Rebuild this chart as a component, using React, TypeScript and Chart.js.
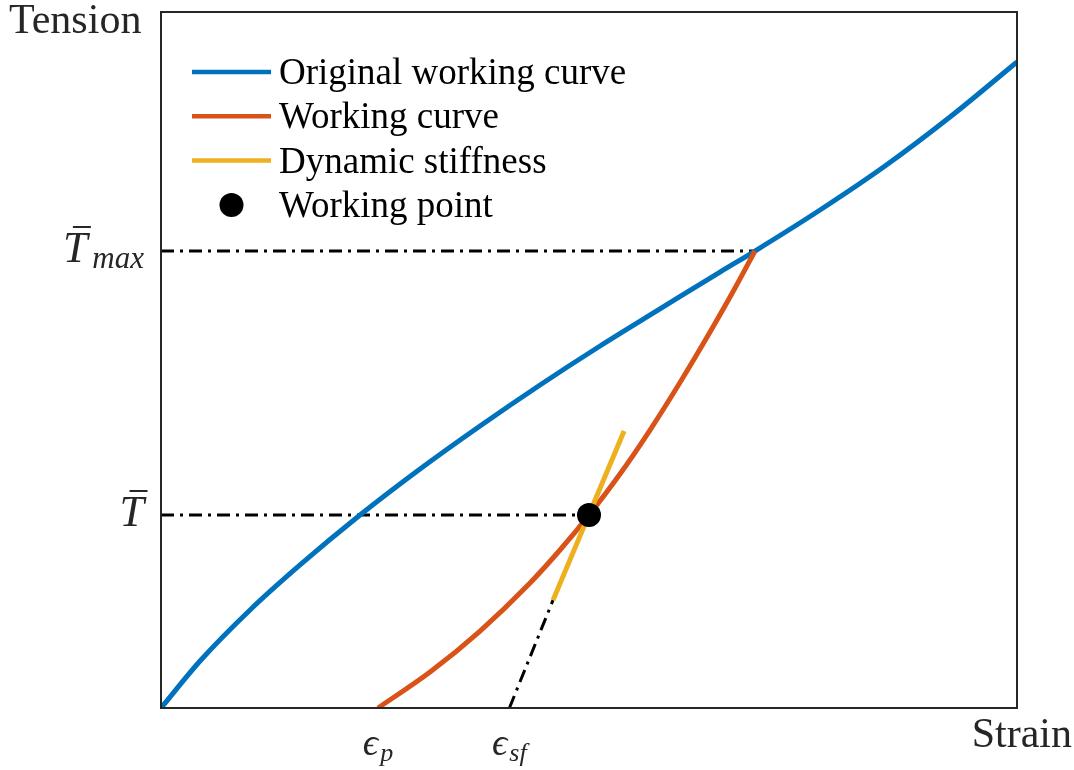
import React, { useEffect, useRef } from 'react';
import { Chart, registerables } from 'chart.js';

Chart.register(...registerables);

// ---- data (strain / tension in normalised units 0..10) ----
const originalStrain = [0, 0.456, 1.04, 1.624, 2.325, 3.026, 3.727, 4.428, 5.129, 5.829, 6.53, 6.939, 7.699, 8.458, 9.217, 10];
const originalTension = [0, 0.675, 1.408, 2.055, 2.773, 3.434, 4.052, 4.641, 5.201, 5.733, 6.264, 6.566, 7.155, 7.787, 8.491, 9.282];

const workingStrain = [2.535, 3.143, 3.727, 4.311, 4.661, 5.0, 5.362, 5.713, 6.063, 6.414, 6.706, 6.939];
const workingTension = [0, 0.517, 1.106, 1.796, 2.27, 2.773, 3.362, 3.994, 4.677, 5.402, 6.034, 6.566];

const stiffnessStrain = [4.58, 5.41];
const stiffnessTension = [1.55, 3.98];

const extensionStrain = [4.07, 4.58];
const extensionTension = [0, 1.55];

const pointStrain = [5.0];
const pointTension = [2.773];

const tMaxGuideStrain = [0, 6.939];
const tMaxGuideTension = [6.566, 6.566];
const tGuideStrain = [0, 5.0];
const tGuideTension = [2.773, 2.773];

const seriesNames = ['Original working curve', 'Working curve', 'Dynamic stiffness', 'Working point'];

const yTickValues = [6.566, 2.773];
const yTickBase = ['T', 'T'];
const yTickSub = ['max', ''];

const xTickValues = [2.535, 4.07];
const xTickBase = ['ϵ', 'ϵ'];
const xTickSub = ['p', 'sf'];

const xAxisTitle = 'Strain';
const yAxisTitle = 'Tension';

const zip = (xs: number[], ys: number[]) => xs.map((v, i) => ({ x: v, y: ys[i] }));

const BLUE = '#0072BD';
const RED = '#D95319';
const YELLOW = '#EDB120';
const SERIF = "'Liberation Serif', 'Times New Roman', 'DejaVu Serif', serif";
const DASHDOT = [13, 6, 3, 6];

const decorPlugin = {
  id: 'decor',
  afterDraw(chart: any) {
    const { ctx, chartArea: a, scales } = chart;
    const xs = scales.x;
    const ys = scales.y;
    ctx.save();

    // frame
    ctx.strokeStyle = '#262626';
    ctx.lineWidth = 2;
    ctx.setLineDash([]);
    ctx.strokeRect(a.left, a.top, a.right - a.left, a.bottom - a.top);

    ctx.fillStyle = '#262626';
    ctx.textBaseline = 'alphabetic';

    // axis titles
    ctx.font = `42px ${SERIF}`;
    ctx.textAlign = 'left';
    ctx.fillText(yAxisTitle, a.left - 152, a.top + 21);
    ctx.textAlign = 'right';
    ctx.fillText(xAxisTitle, chart.width - 2, a.bottom + 39);

    // y tick labels (T-bar)
    yTickValues.forEach((v, i) => {
      const py = ys.getPixelForValue(v);
      const baseFont = `italic 44px ${SERIF}`;
      const subFont = `italic 31px ${SERIF}`;
      ctx.font = subFont;
      const subW = yTickSub[i] ? ctx.measureText(yTickSub[i]).width : 0;
      ctx.font = baseFont;
      const baseW = ctx.measureText(yTickBase[i]).width;
      const right = a.left - 17;
      const gap = yTickSub[i] ? 5 : 0;
      const bx = right - subW - baseW - gap;
      ctx.textAlign = 'left';
      ctx.fillText(yTickBase[i], bx, py + 11);
      // macron bar
      ctx.strokeStyle = '#262626';
      ctx.lineWidth = 2;
      ctx.beginPath();
      ctx.moveTo(bx + 10, py - 24);
      ctx.lineTo(bx + 28, py - 24);
      ctx.stroke();
      if (yTickSub[i]) {
        ctx.font = subFont;
        ctx.fillText(yTickSub[i], bx + baseW + gap, py + 17);
      }
    });

    // x tick labels (epsilon)
    xTickValues.forEach((v, i) => {
      const px = xs.getPixelForValue(v);
      const baseFont = `italic 38px ${SERIF}`;
      const subFont = `italic 26px ${SERIF}`;
      ctx.font = baseFont;
      const baseW = ctx.measureText(xTickBase[i]).width;
      ctx.font = subFont;
      const subW = ctx.measureText(xTickSub[i]).width;
      const total = baseW + subW + 2;
      const lx = px - total / 2;
      ctx.textAlign = 'left';
      ctx.font = baseFont;
      ctx.fillText(xTickBase[i], lx, a.bottom + 47);
      ctx.font = subFont;
      ctx.fillText(xTickSub[i], lx + baseW + 2, a.bottom + 53);
    });

    // legend
    const legendItems = chart.data.datasets.filter((d: any) => d.inLegend);
    legendItems.forEach((d: any, i: number) => {
      const cy = a.top + 60 + i * 44.3;
      const x0 = a.left + 31;
      const x1 = a.left + 110;
      if (d.showLine) {
        ctx.strokeStyle = d.borderColor;
        ctx.lineWidth = 4.5;
        ctx.setLineDash([]);
        ctx.beginPath();
        ctx.moveTo(x0, cy);
        ctx.lineTo(x1, cy);
        ctx.stroke();
      } else {
        ctx.fillStyle = d.backgroundColor;
        ctx.beginPath();
        ctx.arc((x0 + x1) / 2, cy, 12, 0, Math.PI * 2);
        ctx.fill();
      }
      ctx.fillStyle = '#000';
      ctx.font = `37px ${SERIF}`;
      ctx.textAlign = 'left';
      ctx.fillText(d.label, a.left + 118, cy + 12);
    });

    ctx.restore();
  },
};

export default function App() {
  const ref = useRef<HTMLCanvasElement | null>(null);

  useEffect(() => {
    if (!ref.current) return;
    const guide = (data: any, label: string) => ({
      label,
      data,
      showLine: true,
      borderColor: '#000',
      borderWidth: 3,
      borderDash: DASHDOT,
      pointRadius: 0,
      inLegend: false,
      order: 5,
    });
    const chart = new Chart(ref.current, {
      type: 'scatter',
      data: {
        datasets: [
          {
            label: seriesNames[0],
            data: zip(originalStrain, originalTension),
            showLine: true,
            borderColor: BLUE,
            backgroundColor: BLUE,
            borderWidth: 5,
            pointRadius: 0,
            cubicInterpolationMode: 'monotone',
            inLegend: true,
            order: 4,
          } as any,
          {
            label: seriesNames[1],
            data: zip(workingStrain, workingTension),
            showLine: true,
            borderColor: RED,
            backgroundColor: RED,
            borderWidth: 5,
            pointRadius: 0,
            cubicInterpolationMode: 'monotone',
            inLegend: true,
            order: 3,
          } as any,
          {
            label: seriesNames[2],
            data: zip(stiffnessStrain, stiffnessTension),
            showLine: true,
            borderColor: YELLOW,
            backgroundColor: YELLOW,
            borderWidth: 5,
            pointRadius: 0,
            inLegend: true,
            order: 2,
          } as any,
          {
            label: seriesNames[3],
            data: zip(pointStrain, pointTension),
            showLine: false,
            borderColor: '#000',
            backgroundColor: '#000',
            pointRadius: 12,
            pointBorderWidth: 0,
            inLegend: true,
            order: 0,
          } as any,
          guide(zip(tMaxGuideStrain, tMaxGuideTension), 'tmax-guide') as any,
          guide(zip(tGuideStrain, tGuideTension), 't-guide') as any,
          guide(zip(extensionStrain, extensionTension), 'extension') as any,
        ],
      },
      options: {
        animation: false,
        responsive: false,
        maintainAspectRatio: false,
        layout: { padding: { left: 161, right: 57, top: 12, bottom: 62 } },
        scales: {
          x: { type: 'linear', min: 0, max: 10, display: false },
          y: { type: 'linear', min: 0, max: 10, display: false },
        },
        plugins: {
          legend: { display: false },
          tooltip: { enabled: false },
        },
        elements: { line: { borderCapStyle: 'butt' } },
      },
      plugins: [decorPlugin],
    });
    return () => chart.destroy();
  }, []);

  return (
    <div style={{ position: 'fixed', left: 0, top: 0, width: 1074, height: 770, background: '#fff' }}>
      <canvas ref={ref} width={1074} height={770} style={{ display: 'block' }} />
    </div>
  );
}
